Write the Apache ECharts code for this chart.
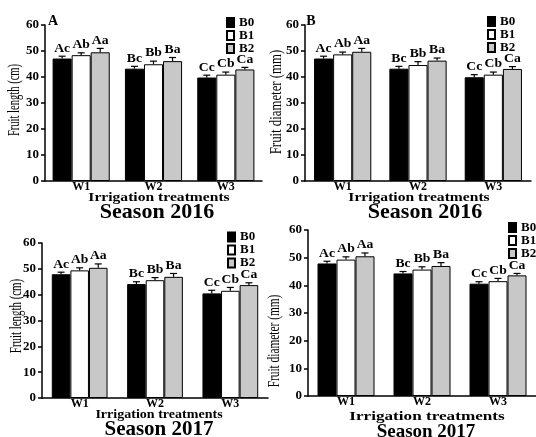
<!DOCTYPE html>
<html>
<head>
<meta charset="utf-8">
<script src="https://cdn.jsdelivr.net/npm/echarts@6/dist/echarts.min.js"></script>
<style>
  html, body { margin: 0; padding: 0; background: #fff; }
  #chart { width: 536px; height: 437px; }
</style>
</head>
<body>
<div id="chart"></div>
<script>
// Categories and groups
const categories = ['W1', 'W2', 'W3'];
const groups = ['B0', 'B1', 'B2'];
const yTicks = [0, 10, 20, 30, 40, 50, 60];

// Significance letters per group
const lettersB0 = ['Ac', 'Bc', 'Cc'];
const lettersB1 = ['Ab', 'Bb', 'Cb'];
const lettersB2 = ['Aa', 'Ba', 'Ca'];

// Fruit length (cm), season 2016
const length2016B0 = [47.1, 43.2, 39.8];
const length2016B1 = [48.4, 44.9, 40.9];
const length2016B2 = [49.5, 46.1, 42.9];
const length2016ErrB0 = [0.9, 0.9, 0.9];
const length2016ErrB1 = [0.9, 1.2, 1.0];
const length2016ErrB2 = [1.5, 1.4, 0.8];

// Fruit diameter (mm), season 2016
const diameter2016B0 = [47.1, 43.2, 39.9];
const diameter2016B1 = [48.7, 44.6, 40.9];
const diameter2016B2 = [49.7, 46.3, 43.1];
const diameter2016ErrB0 = [0.9, 0.9, 1.0];
const diameter2016ErrB1 = [0.9, 1.3, 1.0];
const diameter2016ErrB2 = [1.3, 1.0, 0.9];

// Fruit length (cm), season 2017
const length2017B0 = [47.9, 44.1, 40.5];
const length2017B1 = [49.4, 45.6, 41.5];
const length2017B2 = [50.4, 46.9, 43.7];
const length2017ErrB0 = [0.8, 0.9, 1.2];
const length2017ErrB1 = [1.0, 1.0, 1.3];
const length2017ErrB2 = [1.5, 1.3, 0.9];

// Fruit diameter (mm), season 2017
const diameter2017B0 = [47.9, 44.3, 40.6];
const diameter2017B1 = [49.3, 45.7, 41.5];
const diameter2017B2 = [50.5, 47.0, 43.6];
const diameter2017ErrB0 = [0.8, 0.7, 0.7];
const diameter2017ErrB1 = [1.0, 1.0, 1.0];
const diameter2017ErrB2 = [1.2, 1.2, 0.7];

const SERIF = '"Liberation Serif", "Times New Roman", serif';
const fills = ['#000000', '#ffffff', '#c8c8c8'];
const letterSets = [lettersB0, lettersB1, lettersB2];

const panels = [
  {
    means: [length2016B0, length2016B1, length2016B2],
    errs: [length2016ErrB0, length2016ErrB1, length2016ErrB2],
    grid: { left: 45, right: 274, top: 25, bottom: 256 }, gap: 21,
    legend: { left: 226, top: 16, lineHeight: 11 }
  },
  {
    means: [diameter2016B0, diameter2016B1, diameter2016B2],
    errs: [diameter2016ErrB0, diameter2016ErrB1, diameter2016ErrB2],
    grid: { left: 305, right: 5, top: 25, bottom: 256 }, gap: 24,
    legend: { left: 487, top: 15, lineHeight: 11.5 }
  },
  {
    means: [length2017B0, length2017B1, length2017B2],
    errs: [length2017ErrB0, length2017ErrB1, length2017ErrB2],
    grid: { left: 42, right: 268, top: 243, bottom: 39 }, gap: 26,
    legend: { left: 227, top: 230.5, lineHeight: 12.2 }
  },
  {
    means: [diameter2017B0, diameter2017B1, diameter2017B2],
    errs: [diameter2017ErrB0, diameter2017ErrB1, diameter2017ErrB2],
    grid: { left: 308, right: -12, top: 230, bottom: 41 }, gap: 25,
    legend: { left: 508, top: 221, lineHeight: 11.7 }
  }
];

// Error bar with cap and letter above it, placed over the k-th bar of a group
function errorBarRenderer(k, gapFrac, letters) {
  return function (params, api) {
    const idx = api.value(0);
    const v = api.value(1);
    const e = api.value(2);
    const band = api.size([1, 0])[0];
    const bw = band * (1 - gapFrac) / 3;
    const base = api.coord([idx, v]);
    const cx = base[0] + (k - 1) * bw;
    const top = api.coord([idx, v + e])[1];
    return {
      type: 'group',
      children: [
        { type: 'line', shape: { x1: cx, y1: base[1], x2: cx, y2: top },
          style: { stroke: '#000', lineWidth: 1.2 } },
        { type: 'line', shape: { x1: cx - 3.5, y1: top, x2: cx + 3.5, y2: top },
          style: { stroke: '#000', lineWidth: 1.2 } },
        { type: 'text', x: cx, y: top - 1.5, scaleX: 1.05,
          style: { text: letters[params.dataIndex], textAlign: 'center',
                   textVerticalAlign: 'bottom', fill: '#000',
                   font: 'bold 13px ' + SERIF } }
      ]
    };
  };
}

const grids = [], xAxes = [], yAxes = [], series = [], legends = [];
panels.forEach(function (p, pi) {
  grids.push(Object.assign({ containLabel: false }, p.grid));
  xAxes.push({
    type: 'category', gridIndex: pi, data: categories,
    axisLine: { lineStyle: { color: '#000', width: 1.5 } },
    axisTick: { show: false },
    axisLabel: { color: '#000', fontFamily: SERIF, fontWeight: 'bold', fontSize: 12, margin: 0 }
  });
  yAxes.push({
    type: 'value', gridIndex: pi,
    min: yTicks[0], max: yTicks[yTicks.length - 1], interval: yTicks[1] - yTicks[0],
    axisLine: { show: true, lineStyle: { color: '#000', width: 1.5 } },
    axisTick: { show: true, length: 4, lineStyle: { color: '#000', width: 1.5 } },
    splitLine: { show: false },
    axisLabel: { color: '#000', fontFamily: SERIF, fontWeight: 'bold', fontSize: 13, margin: 6 }
  });
  for (let k = 0; k < 3; k++) {
    series.push({
      type: 'bar', name: groups[k], xAxisIndex: pi, yAxisIndex: pi,
      data: p.means[k], barGap: '0%', barCategoryGap: p.gap + '%',
      itemStyle: { color: fills[k], borderColor: '#000', borderWidth: 1 }
    });
    series.push({
      type: 'custom', xAxisIndex: pi, yAxisIndex: pi, silent: true, z: 3,
      encode: { x: 0, y: 1 },
      data: p.means[k].map(function (v, i) { return [i, v, p.errs[k][i]]; }),
      renderItem: errorBarRenderer(k, p.gap / 100, letterSets[k])
    });
  }
  legends.push({
    orient: 'vertical', left: p.legend.left, top: p.legend.top,
    data: groups, icon: 'rect', itemWidth: 7, itemHeight: 9, itemGap: 0,
    selectedMode: false, padding: 0,
    textStyle: { color: '#000', fontFamily: SERIF, fontWeight: 'bold', fontSize: 13,
                 lineHeight: p.legend.lineHeight }
  });
});

function label(text, x, y, size, opts) {
  opts = opts || {};
  return {
    type: 'text', x: x, y: y, rotation: opts.rotation || 0,
    scaleX: opts.scaleX || 1, scaleY: opts.scaleY || 1, z: 10,
    style: { text: text, textAlign: 'center', textVerticalAlign: 'middle', fill: '#000',
             font: (opts.weight || 'bold') + ' ' + size + 'px ' + SERIF }
  };
}

const texts = [
  label('A', 53, 21, 14),
  label('B', 311, 21, 14),
  label('Fruit length (cm)', 15, 100, 16, { rotation: Math.PI / 2, scaleX: 0.66, weight: 'normal' }),
  label('Fruit diameter (mm)', 277, 102, 16, { rotation: Math.PI / 2, scaleX: 0.8, weight: 'normal' }),
  label('Fruit length (cm)', 17, 316, 16, { rotation: Math.PI / 2, scaleX: 0.68, weight: 'normal' }),
  label('Fruit diameter (mm)', 275, 341, 16, { rotation: Math.PI / 2, scaleX: 0.71, weight: 'normal' }),
  label('Irrigation treatments', 159, 198, 13, { scaleX: 1.2 }),
  label('Irrigation treatments', 419, 198, 13, { scaleX: 1.2 }),
  label('Irrigation treatments', 159, 415, 13, { scaleX: 1.08 }),
  label('Irrigation treatments', 427, 417, 13, { scaleX: 1.32 }),
  label('Season 2016', 157, 212, 22),
  label('Season 2016', 425, 212, 22),
  label('Season 2017', 159, 430, 21),
  label('Season 2017', 426, 432, 19)
];

const chart = echarts.init(document.getElementById('chart'), null, { renderer: 'canvas' });
chart.setOption({
  animation: false,
  backgroundColor: '#fff',
  grid: grids,
  xAxis: xAxes,
  yAxis: yAxes,
  legend: legends,
  series: series,
  graphic: texts
});
</script>
</body>
</html>
